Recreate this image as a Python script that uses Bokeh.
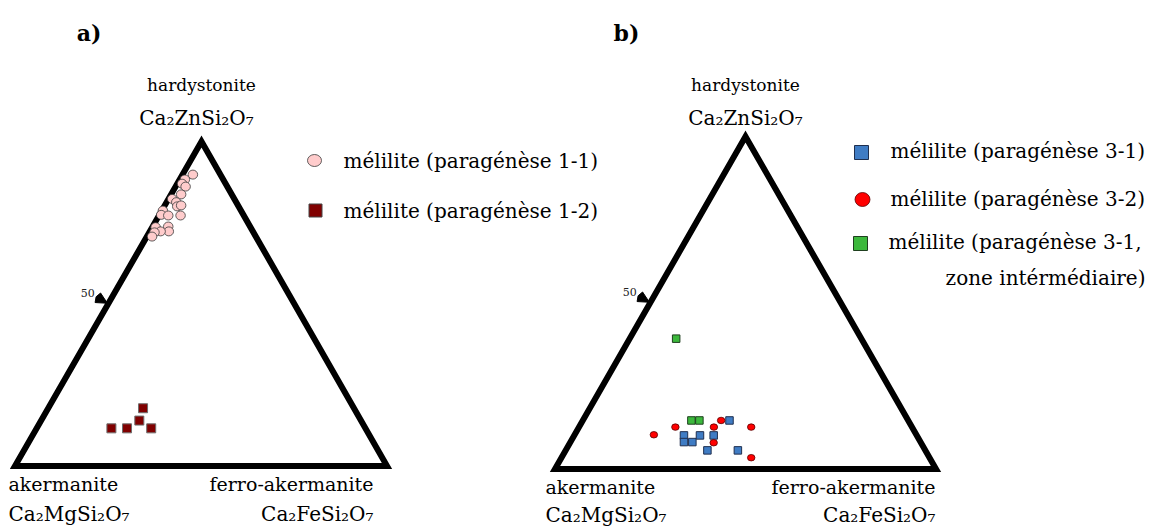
from bokeh.plotting import figure
from bokeh.models import Range1d
from bokeh.core.properties import value
from bokeh.embed import file_html
from bokeh.resources import INLINE

# Compositions in mol % : hardystonite (Ca2ZnSi2O7) and ferro-akermanite (Ca2FeSi2O7);
# the akermanite (Ca2MgSi2O7) share is the remainder to 100 %.
para_1_1_hardy = [89.8, 88.3, 87.0, 86.1, 83.7, 82.3, 81.3, 80.0, 80.3, 77.2,
                  78.7, 77.4, 77.2, 73.6, 73.8, 72.3, 72.3, 72.0, 70.7]
para_1_1_ferro = [2.8, 1.4, 1.3, 2.7, 2.7, 1.0, 2.6, 3.5, 4.4, 5.8,
                  0.3, 0.5, 2.5, 0.9, 4.2, 5.1, 2.9, 1.4, 1.4]

para_1_2_hardy = [17.8, 14.0, 11.6, 11.6, 11.6]
para_1_2_ferro = [25.5, 26.4, 20.1, 24.3, 30.8]

para_3_1_hardy = [14.6, 10.1, 8.1, 8.1, 10.1, 10.1, 5.6, 5.6]
para_3_1_ferro = [38.5, 28.8, 29.8, 32.0, 33.0, 36.6, 37.2, 45.2]

para_3_2_hardy = [10.3, 12.6, 12.6, 14.6, 12.6, 7.9, 3.4]
para_3_2_ferro = [20.8, 25.3, 35.4, 36.3, 45.2, 37.7, 49.8]

para_3_1_zone_hardy = [14.6, 14.6, 39.2]
para_3_1_zone_ferro = [28.5, 30.6, 12.2]

tick_value = 50  # hardystonite % marked on the akermanite-hardystonite edge

legend_a = ["mélilite (paragénèse 1-1)", "mélilite (paragénèse 1-2)"]
legend_b = ["mélilite (paragénèse 3-1)", "mélilite (paragénèse 3-2)",
            "mélilite (paragénèse 3-1,", "zone intérmédiaire)"]

# ---- layout (screen units, y grows downward) ----
W, H = 1155, 527
TRI_A = {"ak": (14.5, 465.5), "fe": (386.5, 465.5), "hd": (201.0, 141.0)}
TRI_B = {"ak": (554.5, 468.5), "fe": (935.5, 468.5), "hd": (745.0, 136.0)}

SERIF = value("DejaVu Serif")


def to_xy(tri, hardy, ferro):
    """Barycentric -> cartesian inside a diagram triangle (values in %)."""
    xs, ys = [], []
    for h, f in zip(hardy, ferro):
        h, f = h / 100.0, f / 100.0
        a = 1.0 - h - f
        xs.append(a * tri["ak"][0] + f * tri["fe"][0] + h * tri["hd"][0])
        ys.append(a * tri["ak"][1] + f * tri["fe"][1] + h * tri["hd"][1])
    return xs, ys


p = figure(width=W, height=H, x_range=Range1d(0, W), y_range=Range1d(H, 0),
           output_backend="svg", toolbar_location=None,
           x_axis_type=None, y_axis_type=None, min_border=0)
p.grid.visible = False
p.outline_line_color = None
p.background_fill_color = "white"


def draw_triangle(tri):
    xs = [tri["ak"][0], tri["fe"][0], tri["hd"][0]]
    ys = [tri["ak"][1], tri["fe"][1], tri["hd"][1]]
    p.patch(xs, ys, fill_color=None, line_color="black", line_width=6,
            line_join="miter")
    # 50 % tick: small arrowhead just outside the left edge
    (mx,), (my,) = to_xy(tri, [tick_value], [0])
    ex, ey = tri["hd"][0] - tri["ak"][0], tri["hd"][1] - tri["ak"][1]
    n = (ex ** 2 + ey ** 2) ** 0.5
    ux, uy = ex / n, ey / n            # along the edge
    nx, ny = uy, -ux                   # outward normal (to the left)
    tipx, tipy = mx + 1 * nx, my + 1 * ny
    bx, by = mx + 12 * nx, my + 12 * ny
    p.patch([tipx, bx + 5.5 * ux, bx + 2 * nx, bx - 5.5 * ux],
            [tipy, by + 5.5 * uy, by + 2 * ny, by - 5.5 * uy],
            fill_color="black", line_color="black", line_width=1,
            line_join="round")
    p.text([bx - 3], [by - 5], text=[str(tick_value)],
           text_font=SERIF, text_font_size="11px", text_color="#222222",
           text_align="right", text_baseline="middle")


draw_triangle(TRI_A)
draw_triangle(TRI_B)

# ---- diagram a ----
x, y = to_xy(TRI_A, para_1_2_hardy, para_1_2_ferro)
p.scatter(x, y, marker="square", size=9, fill_color="#800000",
          line_color="#6e6e6e", line_width=1)
x, y = to_xy(TRI_A, para_1_1_hardy, para_1_1_ferro)
p.ellipse(x, y, width=9.5, height=9, fill_color="#ffcccc",
          line_color="#3a3a3a", line_width=0.8)

# ---- diagram b ----
x, y = to_xy(TRI_B, para_3_1_hardy, para_3_1_ferro)
p.scatter(x, y, marker="square", size=7.5, fill_color="#3f7cc4",
          line_color="#1f2f4f", line_width=1)
x, y = to_xy(TRI_B, para_3_1_zone_hardy, para_3_1_zone_ferro)
p.scatter(x, y, marker="square", size=7.5, fill_color="#3cb83c",
          line_color="#1f3f1f", line_width=1)
x, y = to_xy(TRI_B, para_3_2_hardy, para_3_2_ferro)
p.ellipse(x, y, width=7.5, height=6.5, fill_color="#ff0000",
          line_color="#5a0000", line_width=0.8)

# ---- legends ----
p.ellipse([314], [160], width=14, height=12, fill_color="#ffcccc",
          line_color="#3a3a3a", line_width=0.8)
p.scatter([315], [210], marker="square", size=13, fill_color="#800000",
          line_color="#444444", line_width=1)
p.text([343, 343], [160, 210], text=legend_a, text_font=SERIF,
       text_font_size="20px", text_align="left", text_baseline="middle")

p.scatter([861], [152], marker="square", size=14, fill_color="#3f7cc4",
          line_color="#1f2f4f", line_width=1)
p.ellipse([862], [199], width=15, height=14, fill_color="#ff0000",
          line_color="#5a0000", line_width=0.8)
p.scatter([860], [243], marker="square", size=14, fill_color="#3cb83c",
          line_color="#1f3f1f", line_width=1)
p.text([890, 890, 888], [150, 198, 241], text=legend_b[:3], text_font=SERIF,
       text_font_size="20px", text_align="left", text_baseline="middle")
p.text([1145], [277], text=legend_b[3:], text_font=SERIF,
       text_font_size="20px", text_align="right", text_baseline="middle")

# ---- end-member labels ----
labels = [
    # text, x, y, align, size
    ("hardystonite", 201, 84, "center", "17px"),
    ("Ca₂ZnSi₂O₇", 196, 117, "center", "20px"),
    ("akermanite", 8, 483, "left", "19px"),
    ("Ca₂MgSi₂O₇", 8, 513, "left", "20px"),
    ("ferro-akermanite", 373, 483, "right", "19px"),
    ("Ca₂FeSi₂O₇", 373, 513, "right", "20px"),
    ("hardystonite", 745, 84, "center", "17px"),
    ("Ca₂ZnSi₂O₇", 745, 117, "center", "20px"),
    ("akermanite", 545, 486, "left", "19px"),
    ("Ca₂MgSi₂O₇", 545, 514, "left", "20px"),
    ("ferro-akermanite", 935, 486, "right", "19px"),
    ("Ca₂FeSi₂O₇", 935, 514, "right", "20px"),
]
for t, lx, ly, al, sz in labels:
    p.text([lx], [ly], text=[t], text_font=SERIF, text_font_size=sz,
           text_align=al, text_baseline="middle")

# panel letters
p.text([88.5, 626], [32, 32], text=["a)", "b)"], text_font=SERIF,
       text_font_size="22px", text_font_style="bold",
       text_align="center", text_baseline="middle")

open("out.html", "w").write(file_html(p, INLINE))
